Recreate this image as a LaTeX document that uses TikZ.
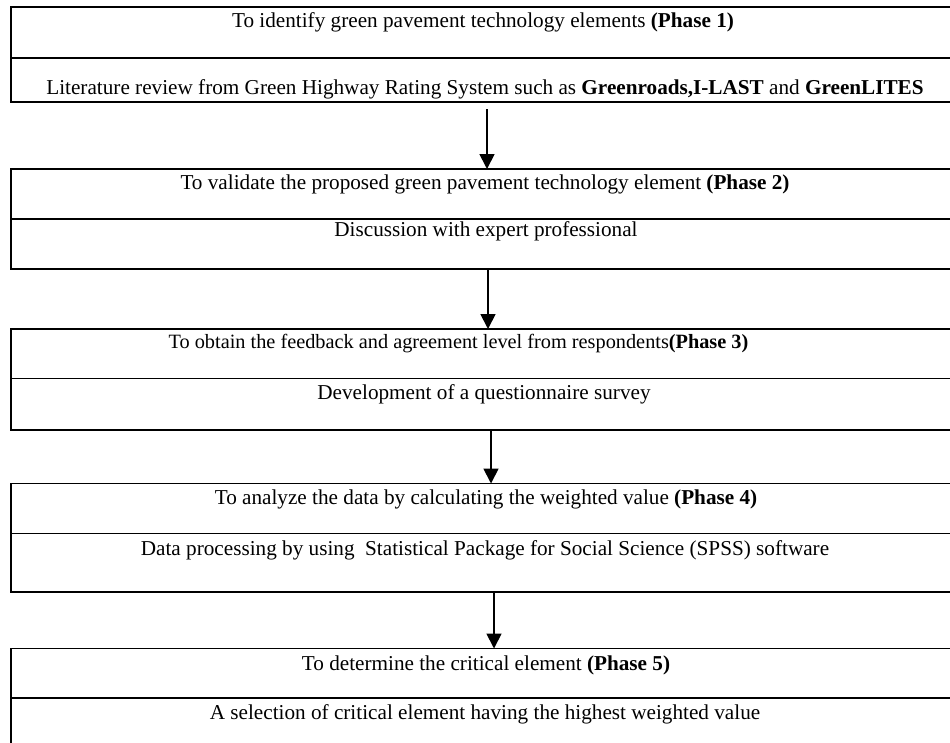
\documentclass[tikz,border=0pt]{standalone}
\usepackage{fontspec}
\setmainfont{Liberation Serif}
\usetikzlibrary{arrows.meta}
\begin{document}
\begin{tikzpicture}[x=1pt,y=-1pt,
  part/.style={draw, line width=1.5pt, minimum width=947pt, inner sep=0pt, outer sep=0pt},
  lbl/.style={anchor=base, inner sep=0pt, font=\fontsize{21.2}{25}\selectfont},
  small/.style={font=\fontsize{20.3}{24}\selectfont},
  flow/.style={line width=1.8pt, -{Triangle[width=15pt,length=15pt]}}]
\clip (0,0) rectangle (950,742);

% Phase 1
\node[part, minimum height=51pt] (p1a) at (484.5,32.5) {};
\node[part, minimum height=44pt] (p1b) at (484.5,80) {};
\node[lbl] (t1a) at (483,27) {To identify green pavement technology elements \textbf{(Phase 1)}};
\node[lbl] (t1b) at (485,94) {Literature review from Green Highway Rating System such as \textbf{Greenroads,I-LAST} and \textbf{GreenLITES}};

% Phase 2
\node[part, minimum height=50pt] (p2a) at (484.5,194) {};
\node[part, minimum height=50pt] (p2b) at (484.5,244) {};
\node[lbl] (t2a) at (485,189) {To validate the proposed green pavement technology element \textbf{(Phase 2)}};
\node[lbl] (t2b) at (486,236) {Discussion with expert professional};

% Phase 3
\node[part, minimum height=49.5pt] (p3a) at (484.5,353.75) {};
\node[part, minimum height=51.5pt] (p3b) at (484.5,404.25) {};
\node[lbl, small] (t3a) at (458.5,348) {To obtain the feedback and agreement level from respondents\textbf{(Phase 3)}};
\node[lbl] (t3b) at (484,399) {Development of a questionnaire survey};

% Phase 4
\node[part, minimum height=50pt] (p4a) at (484.5,508.5) {};
\node[part, minimum height=58.5pt] (p4b) at (484.5,562.75) {};
\node[lbl] (t4a) at (486,504) {To analyze the data by calculating the weighted value \textbf{(Phase 4)}};
\node[lbl] (t4b) at (485,555) {Data processing by using\ \ Statistical Package for Social Science (SPSS) software};

% Phase 5
\node[part, minimum height=49.5pt] (p5a) at (484.5,673.25) {};
\node[part, minimum height=62pt] (p5b) at (484.5,729) {};
\node[lbl] (t5a) at (486,670) {To determine the critical element \textbf{(Phase 5)}};
\node[lbl] (t5b) at (485,719) {A selection of critical element having the highest weighted value};

% arrow columns
\coordinate (c1) at (487,0);
\coordinate (c2) at (488,0);
\coordinate (c3) at (491,0);
\coordinate (c4) at (494,0);

\draw[flow, shorten <=7pt] (p1b.south -| c1) -- (p2a.north -| c1);
\draw[flow] (p2b.south -| c2) -- (p3a.north -| c2);
\draw[flow] (p3b.south -| c3) -- (p4a.north -| c3);
\draw[flow] (p4b.south -| c4) -- (p5a.north -| c4);
\end{tikzpicture}
\end{document}
